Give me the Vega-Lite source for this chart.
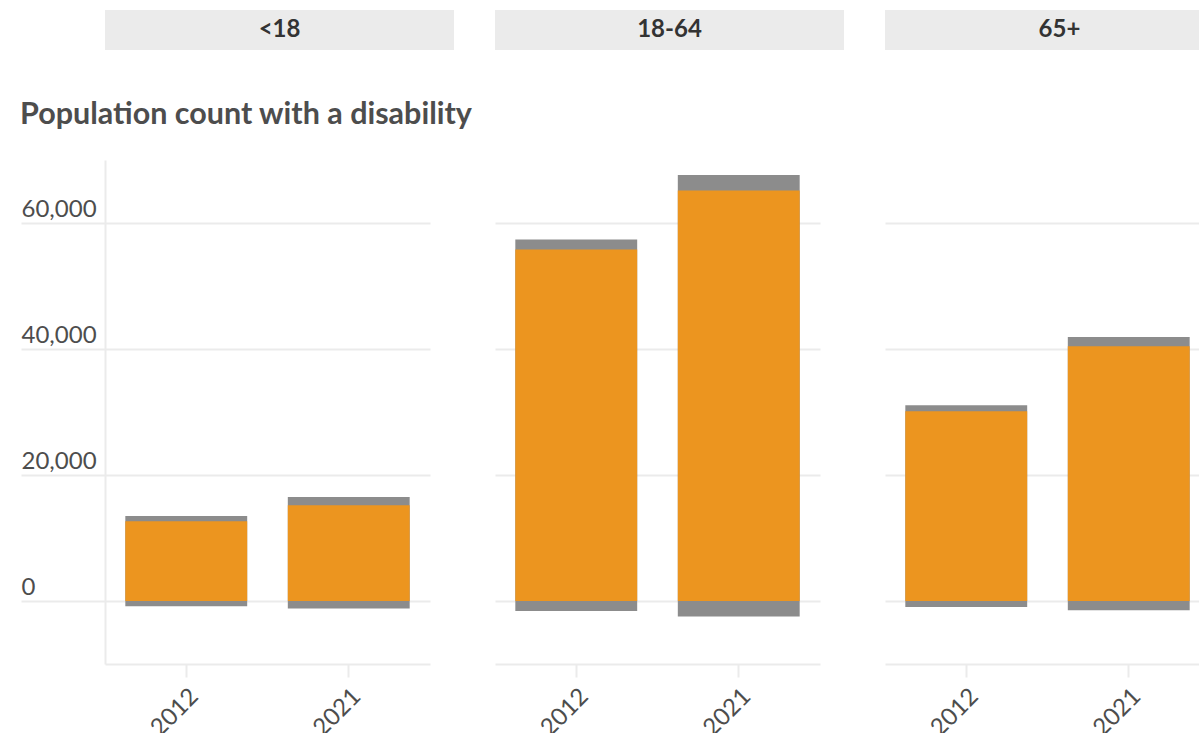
{
  "$schema": "https://vega.github.io/schema/vega-lite/v6.json",
  "padding": {"left": 20, "top": 10, "right": 0, "bottom": 0},
  "background": "white",
  "config": {"view": {"stroke": null}, "font": "Lato"},
  "datasets": {
    "groups": [{"age": "<18"}, {"age": "18-64"}, {"age": "65+"}],
    "pop": [
      {"age": "<18", "year": "2012", "est": 12650, "lo": -840, "hi": 13490},
      {"age": "<18", "year": "2021", "est": 15190, "lo": -1210, "hi": 16510},
      {"age": "18-64", "year": "2012", "est": 55780, "lo": -1590, "hi": 57370},
      {"age": "18-64", "year": "2021", "est": 65140, "lo": -2480, "hi": 67620},
      {"age": "65+", "year": "2012", "est": 30110, "lo": -950, "hi": 31060},
      {"age": "65+", "year": "2021", "est": 40430, "lo": -1480, "hi": 41910}
    ]
  },
  "spacing": 49,
  "vconcat": [
    {
      "data": {"name": "groups"},
      "width": 1129,
      "height": 40,
      "encoding": {
        "x": {"field": "age", "type": "nominal", "sort": ["<18", "18-64", "65+"], "scale": {"paddingInner": 0.105, "paddingOuter": 0}, "axis": null}
      },
      "layer": [
        {"mark": {"type": "rect", "color": "#EBEBEB"}},
        {"mark": {"type": "text", "font": "Lato", "fontWeight": "bold", "fontSize": 24, "color": "#333333"}, "encoding": {"text": {"field": "age"}}}
      ]
    },
    {
      "data": {"name": "pop"},
      "title": {"text": "Population count with a disability", "anchor": "start", "frame": "bounds", "font": "Lato", "fontSize": 30.5, "fontWeight": "bold", "color": "#4D4D4D", "offset": 6, "baseline": "alphabetic"},
      "facet": {"column": {"field": "age", "type": "nominal", "sort": ["<18", "18-64", "65+"], "header": {"title": null, "labels": false}}},
      "spacing": 65,
      "spec": {
        "width": 325,
        "height": 504,
        "encoding": {
          "x": {"field": "year", "type": "nominal", "scale": {"paddingInner": 0.25, "paddingOuter": 0.125},
            "axis": {"title": null, "labelAngle": -45, "labelAlign": "right", "labelBaseline": "top", "labelPadding": 7, "labelFont": "Lato", "labelFontSize": 24, "labelColor": "#4D4D4D", "domainColor": "#EBEBEB", "domainWidth": 2, "tickColor": "#EBEBEB", "tickWidth": 2, "tickSize": 13, "grid": false}}
        },
        "layer": [
          {
            "mark": {"type": "bar", "color": "#8C8C8C"},
            "encoding": {
              "y": {"field": "lo", "type": "quantitative", "scale": {"domain": [-10000, 70000], "nice": false},
                "axis": {"title": null, "values": [0, 20000, 40000, 60000], "format": ",.0f", "grid": true, "gridColor": "#EBEBEB", "gridWidth": 2, "domain": true, "domainColor": "#EBEBEB", "domainWidth": 2, "tickColor": "#EBEBEB", "tickWidth": 2, "tickSize": 84, "labelAlign": "left", "labelBaseline": "alphabetic", "labelPadding": 0, "labelOffset": -7, "labelFont": "Lato", "labelFontSize": 24, "labelColor": "#4D4D4D"}},
              "y2": {"field": "hi"}
            }
          },
          {
            "mark": {"type": "bar", "color": "#EC951F"},
            "encoding": {"y": {"field": "est", "type": "quantitative"}}
          }
        ]
      }
    }
  ]
}
